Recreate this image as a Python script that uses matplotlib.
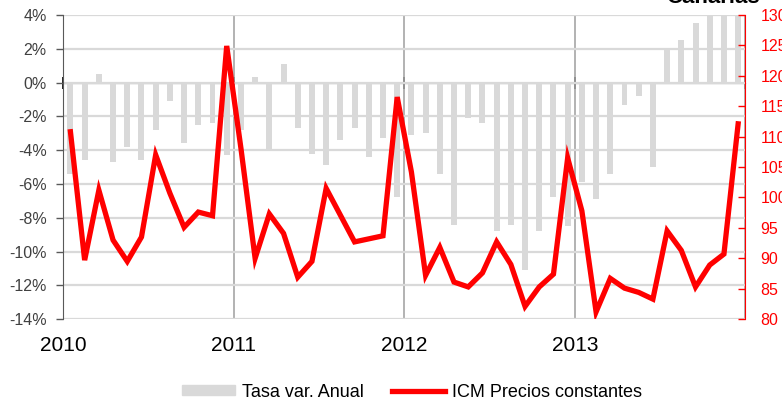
import numpy as np
import matplotlib
matplotlib.use("Agg")
import matplotlib.pyplot as plt
from matplotlib.patches import Patch
from matplotlib.lines import Line2D

plt.rcParams['font.family'] = ['Liberation Sans', 'DejaVu Sans']

# monthly data Jan 2010 - Dec 2013
tasa_var = [-5.4, -4.6, 0.5, -4.7, -3.8, -4.6, -2.8, -1.1, -3.6, -2.5, -2.4, -4.3,
            -2.8, 0.35, -4.0, 1.1, -2.7, -4.2, -4.9, -3.4, -2.7, -4.4, -3.3, -6.8,
            -3.1, -3.0, -5.4, -8.4, -2.1, -2.4, -8.8, -8.4, -11.1, -8.8, -6.8, -8.5,
            -5.9, -6.9, -5.4, -1.3, -0.8, -5.0, 1.9, 2.5, 3.5, 4.3, 4.8, 5.2]
icm = [110.8, 89.7, 101.2, 93.0, 89.5, 93.5, 107.0, 100.7, 95.1, 97.6, 97.0, 124.9,
       108.1, 90.0, 97.3, 94.1, 86.9, 89.5, 101.5, 97.1, 92.7, 93.2, 93.7, 116.5,
       104.2, 87.2, 91.8, 86.1, 85.3, 87.6, 92.7, 89.0, 82.1, 85.3, 87.4, 106.5,
       97.8, 81.2, 86.7, 85.1, 84.4, 83.3, 94.5, 91.3, 85.3, 88.9, 90.7, 112.1]
years = [2010, 2011, 2012, 2013, 2014]
year_labels = ['2010', '2011', '2012', '2013', '']
left_ticks = [4, 2, 0, -2, -4, -6, -8, -10, -12, -14]
right_ticks = [130, 125, 120, 115, 110, 105, 100, 95, 90, 85, 80]

x = 2010 + (np.arange(len(icm)) + 0.5) / 12.0

fig = plt.figure(figsize=(7.82, 4.03), dpi=100)
ax = fig.add_axes([0.081, 0.208, 0.872, 0.755])
ax2 = ax.twinx()

ax.bar(x, tasa_var, width=0.42 / 12, color='#d9d9d9', zorder=2)
ax.set_xlim(2010, 2014)
ax.set_ylim(-14, 4)
ax.set_yticks(left_ticks)
ax.set_yticklabels([f'{v}%' for v in left_ticks])
ax.set_xticks(years)
ax.set_xticklabels(year_labels)
ax.tick_params(axis='x', length=0, pad=12, labelsize=15, labelcolor='black')
ax.tick_params(axis='y', direction='out', length=5, width=1, color='#595959',
               pad=7, labelsize=11.5, labelcolor='#404040')
ax.yaxis.grid(True, color='#d9d9d9', lw=1.6, zorder=0)
ax.xaxis.grid(True, color='#a6a6a6', lw=1.2, zorder=0)
ax.set_axisbelow(True)
for s in ['top', 'right', 'bottom']:
    ax.spines[s].set_visible(False)
ax.spines['left'].set_color('#595959')

# zero line with year ticks
zero = ax.secondary_xaxis(14 / 18)
zero.set_xticks(years)
zero.tick_params(direction='inout', length=9, width=1.2, color='black',
                 labelbottom=False, labeltop=False)
zero.spines['bottom'].set_color('black')
zero.spines['top'].set_color('black')

ax2.plot(x, icm, color='#ff0000', lw=3.8, solid_joinstyle='miter', zorder=5)
ax2.set_ylim(80, 130)
ax2.set_yticks(right_ticks)
ax2.tick_params(axis='y', direction='in', length=5, width=1, color='#ff0000',
                pad=11, labelsize=11.5, labelcolor='#ff0000')
for s in ['top', 'left', 'bottom']:
    ax2.spines[s].set_visible(False)
ax2.spines['right'].set_color('#ff0000')

fig.text(0.972, 0.992, 'Canarias', ha='right', va='baseline',
         fontsize=16, fontweight='bold')

handles = [Patch(color='#d9d9d9'),
           Line2D([0], [0], color='#ff0000', lw=3.8)]
fig.legend(handles, ['Tasa var. Anual', 'ICM Precios constantes'],
           loc='center', bbox_to_anchor=(0.527, 0.027), ncol=2, frameon=False,
           fontsize=13, handlelength=2.9, handleheight=0.45, handletextpad=0.4,
           columnspacing=1.6)

fig.savefig('out.png', dpi=100)
